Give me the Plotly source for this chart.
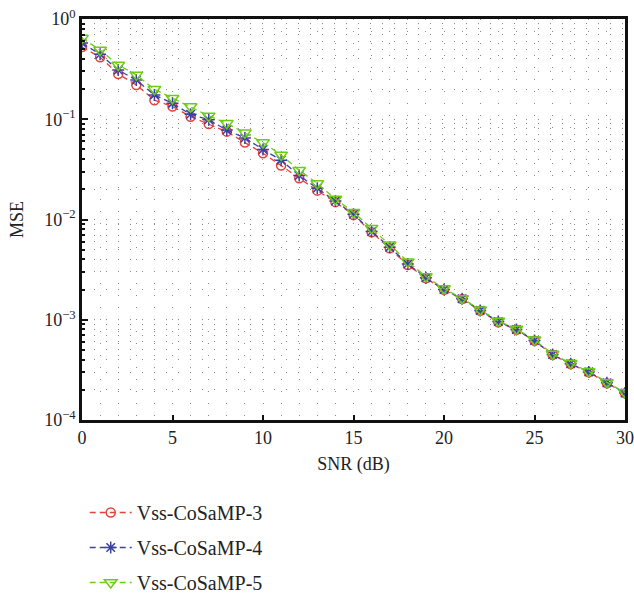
import plotly.graph_objects as go

snr = list(range(0, 31))

mse_3 = [0.526, 0.415, 0.283, 0.22, 0.155, 0.134, 0.106, 0.0898, 0.0752, 0.0585,
         0.0458, 0.0345, 0.0258, 0.0194, 0.0149, 0.0111, 0.00746, 0.00517, 0.00352, 0.00259,
         0.00199, 0.00161, 0.00123, 0.000946, 0.000793, 0.000616, 0.000447, 0.000361, 0.0003, 0.000233,
         0.000185]
mse_4 = [0.575, 0.445, 0.31, 0.246, 0.175, 0.144, 0.112, 0.099, 0.078, 0.065,
         0.050, 0.039, 0.0275, 0.0205, 0.0153, 0.0113, 0.0076, 0.0053, 0.0036, 0.00262,
         0.002, 0.00162, 0.00124, 0.00096, 0.0008, 0.00062, 0.00045, 0.000364, 0.000302, 0.000235,
         0.000186]
mse_5 = [0.645, 0.49, 0.348, 0.277, 0.199, 0.162, 0.134, 0.108, 0.091, 0.0735,
         0.0585, 0.044, 0.031, 0.0229, 0.016, 0.0118, 0.0082, 0.0056, 0.0038, 0.0027,
         0.00205, 0.00163, 0.00126, 0.00097, 0.00081, 0.00063, 0.000455, 0.000368, 0.000305, 0.000237,
         0.000188]

names = ["Vss-CoSaMP-3", "Vss-CoSaMP-4", "Vss-CoSaMP-5"]
series = [mse_3, mse_4, mse_5]
colors = ["#e8423a", "#3b40a3", "#6ccc14"]
symbols = ["circle-open", "asterisk-open", "triangle-down-open"]
sizes = [9, 10, 11]

ytick_vals = [1e-4, 1e-3, 1e-2, 1e-1, 1]
ytick_text = ["10<sup>−4</sup>", "10<sup>−3</sup>", "10<sup>−2</sup>", "10<sup>−1</sup>", "10<sup>0</sup>"]

fig = go.Figure()
for i, (nm, ys) in enumerate(zip(names, series)):
    fig.add_trace(go.Scatter(
        x=snr, y=ys, name=nm, mode="lines+markers",
        legendgroup=nm,
        line=dict(color=colors[i], width=1.3, dash="6px,4px"),
        marker=dict(symbol=symbols[i], size=sizes[i], color=colors[i],
                    line=dict(color=colors[i], width=1.5)),
    ))

font_family = "'Liberation Serif', 'Times New Roman', serif"
grid_color = "#8a8a8a"

fig.update_layout(
    width=634, height=597,
    margin=dict(l=82, r=9, t=19, b=177, autoexpand=False),
    plot_bgcolor="white", paper_bgcolor="white",
    font=dict(family=font_family, size=18, color="#222222"),
    showlegend=True,
    legend=dict(x=0.005, y=-0.182, xanchor="left", yanchor="top",
                font=dict(family=font_family, size=20, color="#222222"),
                itemwidth=42, tracegroupgap=6, bgcolor="rgba(0,0,0,0)"),
)

fig.update_xaxes(
    range=[0, 30], tickvals=[0, 5, 10, 15, 20, 25, 30], automargin=False,
    ticks="inside", ticklen=5, tickwidth=2, tickcolor="#111111",
    showline=True, linecolor="#111111", linewidth=2.5, mirror=True,
    showgrid=True, gridcolor=grid_color, gridwidth=1, griddash="1px,11px",
    minor=dict(dtick=1, showgrid=True, gridcolor=grid_color, gridwidth=1, griddash="1px,11px", ticks=""),
    zeroline=False,
    title=dict(text="SNR (dB)", font=dict(family=font_family, size=18), standoff=11),
    tickfont=dict(family=font_family, size=18),
)

fig.update_yaxes(
    type="log", range=[-4, 0], automargin=False,
    tickvals=ytick_vals, ticktext=ytick_text,
    ticks="inside", ticklen=6, tickwidth=2, tickcolor="#111111",
    showline=True, linecolor="#111111", linewidth=2.5, mirror=True,
    showgrid=True, gridcolor=grid_color, gridwidth=1, griddash="1px,11px",
    minor=dict(dtick="D1", ticks="inside", ticklen=3, tickwidth=1.5, tickcolor="#111111",
               showgrid=True, gridcolor=grid_color, gridwidth=1, griddash="1px,11px"),
    zeroline=False,
    title=dict(text="MSE", font=dict(family=font_family, size=18), standoff=16),
    tickfont=dict(family=font_family, size=18),
)

fig.write_html("out.html", config={"displayModeBar": False},
               post_script="document.body.style.margin='0';document.body.style.overflow='hidden';")
